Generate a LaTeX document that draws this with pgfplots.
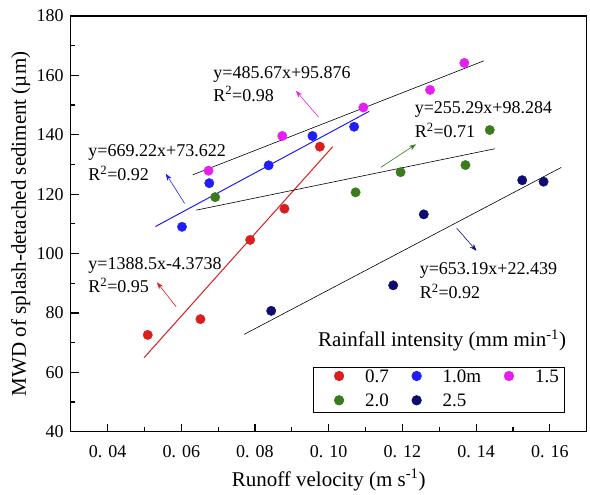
\documentclass[border=0pt]{standalone}
\usepackage{fontspec}
\setmainfont{Liberation Serif}
\usepackage{pgfplots}
\pgfplotsset{compat=1.18}
\usetikzlibrary{arrows.meta}

\definecolor{cred}{RGB}{218,30,30}
\definecolor{cblue}{RGB}{30,30,245}
\definecolor{cmag}{RGB}{230,30,240}
\definecolor{cgreen}{RGB}{60,122,30}
\definecolor{cnavy}{RGB}{14,12,112}

\begin{document}
\begin{tikzpicture}[font=\fontsize{18}{21}\selectfont]
\begin{axis}[
    name=ax,
    scale only axis,
    width=516pt, height=415.7pt,
    xmin=0.03, xmax=0.17, ymin=40, ymax=180,
    xtick={0.04,0.06,0.08,0.10,0.12,0.14,0.16},
    xticklabels={0. 04,0. 06,0. 08,0. 10,0. 12,0. 14,0. 16},
    ytick={40,60,80,100,120,140,160,180},
    yticklabels={40,60,80,100,120,140,160,180},
    minor x tick num=1, minor y tick num=1,
    tick align=inside, xtick pos=left, ytick pos=left,
    major tick length=8pt, minor tick length=4.5pt,
    every tick/.style={black, line width=1.2pt},
    axis line style={line width=1.5pt},
    tick label style={font=\fontsize{18}{21}\selectfont},
    xticklabel style={yshift=-10pt},
    yticklabel style={xshift=-3.5pt},
    label style={font=\fontsize{21}{24}\selectfont},
    xlabel={Runoff velocity (m s\textsuperscript{-1})},
    ylabel={MWD of splash-detached sediment (µm)},
    xlabel style={at={(axis description cs:0.5,-0.116)}, anchor=center},
    ylabel style={at={(axis description cs:-0.097,0.5)}, anchor=center},
    clip=false,
    legend columns=3,
    legend image code/.code={\path (-22pt,0pt) (23.7pt,0pt); \draw[#1] plot coordinates {(0pt,6pt)};},
    legend style={at={(axis description cs:0.469,0.0457)}, anchor=south west,
        draw=black, line width=0.8pt, inner xsep=3.6pt, inner ysep=4pt,
        font=\fontsize{19}{22}\selectfont,
        nodes={inner sep=2pt, text height=9pt, text depth=0pt, anchor=base west},
        row sep=11.3pt, column sep=0pt,
        /tikz/every even column/.style={column sep=3.3pt}},
]
% fitted lines
\addplot[cred, line width=1pt, forget plot] coordinates {(0.0499,64.9)(0.1011,136.0)};
\addplot[cblue, line width=1pt, forget plot] coordinates {(0.053,109.1)(0.111,147.9)};
\addplot[black, line width=0.6pt, forget plot] coordinates {(0.0631,126.5)(0.1421,164.9)};
\addplot[black, line width=0.6pt, forget plot] coordinates {(0.064,114.6)(0.1451,135.3)};
\addplot[black, line width=0.6pt, forget plot] coordinates {(0.0771,72.8)(0.1631,129.0)};

% data
\addplot[only marks, mark=*, mark size=4.7pt, cred] coordinates {
(0.0509,72.6)(0.0652,77.9)(0.0787,104.6)(0.0880,115.1)(0.0976,136.0)};
\addlegendentry{0.7}
\addplot[only marks, mark=*, mark size=4.7pt, cblue] coordinates {
(0.0602,109.0)(0.0676,123.7)(0.0837,129.7)(0.0956,139.6)(0.1069,142.7)};
\addlegendentry{1.0m}
\addplot[only marks, mark=*, mark size=4.7pt, cmag] coordinates {
(0.0674,127.9)(0.0874,139.6)(0.1094,149.2)(0.1275,155.1)(0.1368,164.2)};
\addlegendentry{1.5}
\addplot[only marks, mark=*, mark size=4.7pt, cgreen] coordinates {
(0.0692,119.0)(0.1073,120.6)(0.1195,127.4)(0.1371,129.8)(0.1437,141.6)};
\addlegendentry{2.0}
\addplot[only marks, mark=*, mark size=4.7pt, cnavy] coordinates {
(0.0844,80.7)(0.1175,89.3)(0.1258,113.2)(0.1525,124.7)(0.1583,124.2)};
\addlegendentry{2.5}

% arrows
\tikzset{arr/.style={-{Stealth[length=7pt,width=5pt]}, line width=0.6pt}}
\draw[arr, cmag] (axis cs:0.0973,145.9) -- (axis cs:0.0911,154.8);
\draw[arr, cblue] (axis cs:0.0609,116.9) -- (axis cs:0.0558,126.9);
\draw[arr, cred] (axis cs:0.0586,82.1) -- (axis cs:0.0534,90.3);
\draw[arr, cgreen] (axis cs:0.1141,129.0) -- (axis cs:0.1237,136.8);
\draw[arr, cnavy] (axis cs:0.1347,108.6) -- (axis cs:0.1401,100.9);

% equations
\tikzset{eq/.style={anchor=base west, inner sep=0pt}}
\node[eq] at (axis cs:0.06865,159.0) {y=485.67x+95.876};
\node[eq] at (axis cs:0.06865,151.35) {R\textsuperscript{2}=0.98};
\node[eq] at (axis cs:0.03477,132.6) {y=669.22x+73.622};
\node[eq] at (axis cs:0.03477,124.5) {R\textsuperscript{2}=0.92};
\node[eq] at (axis cs:0.1233,147.2) {y=255.29x+98.284};
\node[eq] at (axis cs:0.1233,139.1) {R\textsuperscript{2}=0.71};
\node[eq] at (axis cs:0.03477,94.7) {y=1388.5x-4.3738};
\node[eq] at (axis cs:0.03477,86.8) {R\textsuperscript{2}=0.95};
\node[eq] at (axis cs:0.12466,92.8) {y=653.19x+22.439};
\node[eq] at (axis cs:0.12466,84.9) {R\textsuperscript{2}=0.92};

\node[anchor=base west, inner sep=0pt, font=\fontsize{21}{24}\selectfont] at (axis description cs:0.4793,0.2045) {Rainfall intensity (mm min\textsuperscript{-1})};
\end{axis}
\path (ax.south west) ++(-70.7pt,-59.3pt) rectangle ([xshift=3.3pt,yshift=16pt]ax.north east);
\end{tikzpicture}
\end{document}
